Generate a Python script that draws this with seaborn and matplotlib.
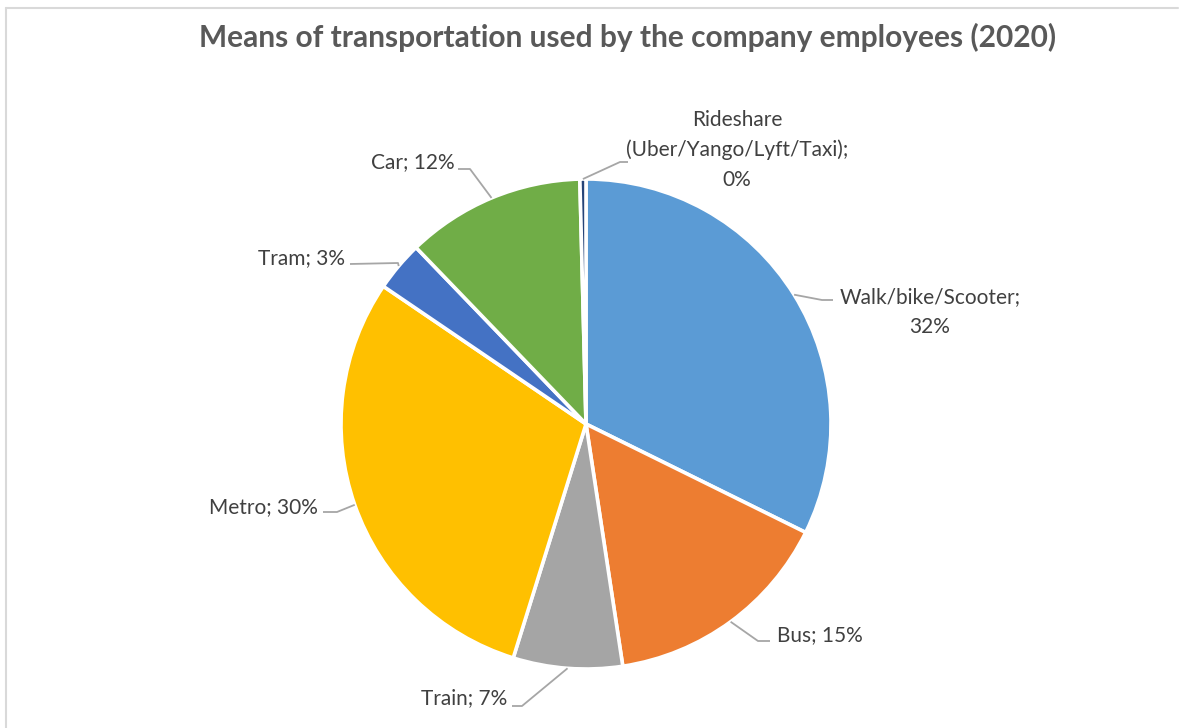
import numpy as np
import matplotlib
matplotlib.use("Agg")
import matplotlib.pyplot as plt
import seaborn as sns

# Share of employees by means of transportation (percent), clockwise from 12 o'clock
categories = ["Walk/bike/Scooter", "Bus", "Train", "Metro", "Tram", "Car",
              "Rideshare\n(Uber/Yango/Lyft/Taxi);"]
shares = [32.3, 15.3, 7.2, 29.7, 3.3, 11.8, 0.4]
colors = ["#5B9BD5", "#ED7D31", "#A5A5A5", "#FFC000", "#4472C4", "#70AD47", "#264478"]
title = "Means of transportation used by the company employees (2020)"

sns.set_theme(style="white")
plt.rcParams["font.family"] = ["Lato", "DejaVu Sans"]

W, H = 1179, 728
fig = plt.figure(figsize=(W / 100, H / 100), dpi=100)
ax = fig.add_axes([0, 0, 1, 1])
ax.set_xlim(0, W)
ax.set_ylim(0, H)
ax.set_aspect("equal")
ax.axis("off")


def P(x, y):
    """Canvas point measured from the top-left corner."""
    return x, H - y


cx, cy = P(586, 424)
R = 245
wedges, _ = ax.pie(shares, colors=colors, startangle=90, counterclock=False,
                   center=(cx, cy), radius=R,
                   wedgeprops=dict(edgecolor="white", linewidth=2.6))
ax.set_xlim(0, W)
ax.set_ylim(0, H)
ax.axis("off")

# label text anchor, alignment, and leader path (elbow then end next to text)
label_layout = [
    dict(text=(930, 312), ha="center", path=[(822, 300), (833, 300)]),
    dict(text=(777, 635), ha="left", path=[(758, 641), (770, 641)]),
    dict(text=(507, 698), ha="right", path=[(522, 706), (512, 706)]),
    dict(text=(318, 507), ha="right", path=[(337, 512), (323, 512)]),
    dict(text=(345, 258), ha="right", path=[(398, 263), (350, 264)]),
    dict(text=(455, 162), ha="right", path=[(470, 169), (458, 169)]),
    dict(text=(737, 150), ha="center", path=[(620, 162), (628, 162)]),
]

total = sum(shares)
start = 0.0
for name, val, lay in zip(categories, shares, label_layout):
    mid = start + val / 2
    start += val
    theta = np.deg2rad(mid / total * 360.0)
    ex, ey = cx + R * np.sin(theta), cy + R * np.cos(theta)
    pts = [(ex, ey)] + [P(*p) for p in lay["path"]]
    xs, ys = zip(*pts)
    ax.plot(xs, ys, color="#A6A6A6", lw=1.3, solid_capstyle="butt", zorder=1)
    pct = f"{round(val / total * 100):.0f}%"
    if name.endswith(";"):
        txt = f"{name}\n{pct}"
    elif name == "Walk/bike/Scooter":
        txt = f"{name};\n{pct}"
    else:
        txt = f"{name}; {pct}"
    tx, ty = P(*lay["text"])
    ax.text(tx, ty, txt, ha=lay["ha"], va="center", fontsize=15,
            color="#404040", linespacing=1.6, multialignment="center")

fig.text(628 / W, 1 - 37 / H, title, ha="center", va="center",
         fontsize=21.5, fontweight="bold", color="#595959")

# chart-area frame: top and left edges
ax.plot([6, W - 1], [H - 8, H - 8], color="#D9D9D9", lw=1.5, clip_on=False)
ax.plot([6, 6], [H - 8, 0], color="#D9D9D9", lw=1.5, clip_on=False)

fig.savefig("out.png", dpi=100, facecolor="white")
